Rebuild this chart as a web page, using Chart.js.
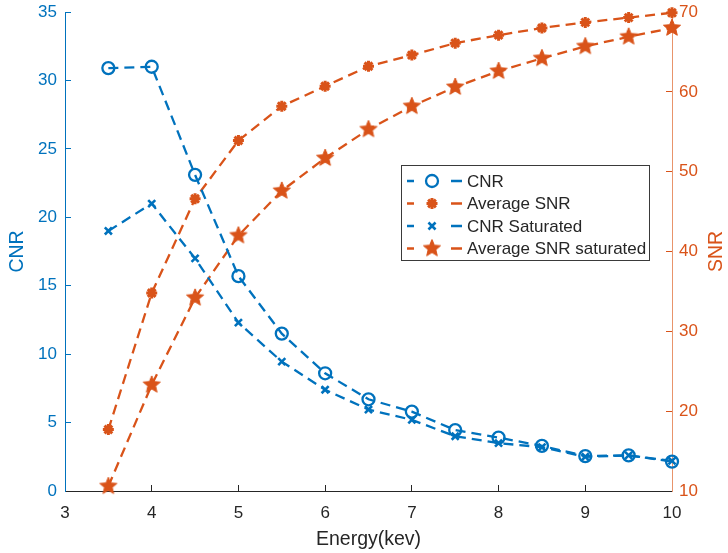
<!DOCTYPE html>
<html>
<head>
<meta charset="utf-8">
<title>CNR / SNR vs Energy</title>
<script src="https://cdn.jsdelivr.net/npm/chart.js@4/dist/chart.umd.min.js"></script>
<style>
  html, body { margin: 0; padding: 0; background: #fff; }
  #grafico { display: block; }
</style>
</head>
<body>
<canvas id="grafico" width="728" height="553"></canvas>
<script>
// Energía (keV) y series medidas
const energia = [3.5, 4, 4.5, 5, 5.5, 6, 6.5, 7, 7.5, 8, 8.5, 9, 9.5, 10];
const cnr = [30.9, 31.0, 23.1, 15.7, 11.5, 8.6, 6.7, 5.8, 4.45, 3.9, 3.3, 2.55, 2.6, 2.15];
const snrMedio = [17.7, 34.8, 46.6, 53.9, 58.2, 60.7, 63.2, 64.6, 66.1, 67.1, 68.0, 68.7, 69.3, 69.9];
const cnrSaturado = [19.0, 21.0, 17.0, 12.3, 9.45, 7.4, 5.95, 5.2, 4.0, 3.5, 3.2, 2.5, 2.6, 2.2];
const snrSaturado = [10.6, 23.3, 34.2, 42.0, 47.6, 51.7, 55.3, 58.2, 60.6, 62.6, 64.2, 65.7, 66.9, 68.0];
const etiquetas = ['CNR', 'Average SNR', 'CNR Saturated', 'Average SNR saturated'];

const AZUL = '#0072BD';
const NARANJA = '#D95319';
const GRIS = '#262626';
const FUENTE = '"Liberation Sans", Arial, sans-serif';
const TRAZO = [10, 6];

// estrella de cinco puntas rellena (no viene en Chart.js)
function crearEstrella(r, color) {
  const c = document.createElement('canvas');
  const s = Math.ceil(r * 2 + 4);
  c.width = c.height = s;
  const g = c.getContext('2d');
  g.fillStyle = color;
  g.strokeStyle = color;
  g.lineWidth = 1;
  g.beginPath();
  for (let i = 0; i < 10; i++) {
    const rr = i % 2 ? r * 0.45 : r;
    const a = -Math.PI / 2 + i * Math.PI / 5;
    g.lineTo(s / 2 + rr * Math.cos(a), s / 2 + rr * Math.sin(a));
  }
  g.closePath();
  g.fill();
  g.stroke();
  return c;
}
const estrella = crearEstrella(9, NARANJA);

const puntos = arr => arr.map((v, i) => ({ x: energia[i], y: v }));

function serie(idx, datos, color, eje, estilo, radio, grosor) {
  return {
    label: etiquetas[idx],
    data: puntos(datos),
    yAxisID: eje,
    borderColor: color,
    borderWidth: 2.3,
    borderDash: TRAZO,
    pointStyle: estilo,
    pointRadius: radio,
    pointBorderWidth: grosor,
    pointBorderColor: color,
    pointBackgroundColor: estilo === 'circle' ? 'rgba(0,0,0,0)' : color,
    tension: 0,
    clip: false
  };
}

// marcador suelto para la leyenda
function dibujarMarcador(ctx, ds, x, y) {
  const r = ds.pointRadius;
  ctx.save();
  ctx.strokeStyle = ds.borderColor;
  ctx.lineWidth = ds.pointBorderWidth;
  ctx.setLineDash([]);
  if (ds.pointStyle instanceof HTMLCanvasElement) {
    const im = ds.pointStyle;
    ctx.drawImage(im, x - im.width / 2, y - im.height / 2);
  } else if (ds.pointStyle === 'circle') {
    ctx.beginPath();
    ctx.arc(x, y, r, 0, Math.PI * 2);
    ctx.stroke();
  } else {
    ctx.beginPath();
    if (ds.pointStyle === 'star') {
      ctx.moveTo(x - r, y); ctx.lineTo(x + r, y);
      ctx.moveTo(x, y - r); ctx.lineTo(x, y + r);
    }
    const dd = r * Math.SQRT1_2;
    ctx.moveTo(x - dd, y - dd); ctx.lineTo(x + dd, y + dd);
    ctx.moveTo(x - dd, y + dd); ctx.lineTo(x + dd, y - dd);
    ctx.stroke();
  }
  ctx.restore();
}

const extras = {
  id: 'extras',
  afterDraw(chart) {
    const ctx = chart.ctx;
    const area = chart.chartArea;
    const der = chart.scales.y1;

    // título del eje derecho, leído de abajo hacia arriba
    ctx.save();
    ctx.translate(der.right - 11, (area.top + area.bottom) / 2);
    ctx.rotate(-Math.PI / 2);
    ctx.font = '19.5px ' + FUENTE;
    ctx.fillStyle = NARANJA;
    ctx.textAlign = 'center';
    ctx.textBaseline = 'middle';
    ctx.fillText('SNR', 0, 0);
    ctx.restore();

    // leyenda dentro del área del gráfico
    const bx = 401, by = 165, bw = 248, bh = 95;
    ctx.save();
    ctx.fillStyle = '#fff';
    ctx.fillRect(bx, by, bw, bh);
    ctx.strokeStyle = '#3a3a3a';
    ctx.lineWidth = 1;
    ctx.strokeRect(bx + 0.5, by + 0.5, bw, bh);
    ctx.font = '17px ' + FUENTE;
    ctx.textBaseline = 'middle';
    chart.data.datasets.forEach((ds, i) => {
      const y = by + 16 + i * 22.5;
      ctx.strokeStyle = ds.borderColor;
      ctx.lineWidth = 2.3;
      ctx.beginPath();
      ctx.moveTo(bx + 6, y); ctx.lineTo(bx + 13, y);
      ctx.moveTo(bx + 50, y); ctx.lineTo(bx + 61, y);
      ctx.stroke();
      dibujarMarcador(ctx, ds, bx + 31, y);
      ctx.fillStyle = GRIS;
      ctx.fillText(ds.label, bx + 66, y + 1);
    });
    ctx.restore();
  }
};

// ancho fijo para los ejes verticales, sin relleno extra arriba/abajo
const ejeVertical = ancho => s => {
  s.width = ancho;
  s.paddingTop = 0;
  s.paddingBottom = 0;
};

new Chart(document.getElementById('grafico'), {
  type: 'line',
  data: {
    datasets: [
      serie(0, cnr, AZUL, 'y', 'circle', 6, 2.3),
      serie(1, snrMedio, NARANJA, 'y1', 'star', 5.5, 3),
      serie(2, cnrSaturado, AZUL, 'y', 'crossRot', 5, 2.6),
      serie(3, snrSaturado, NARANJA, 'y1', estrella, 9, 1)
    ]
  },
  options: {
    responsive: false,
    animation: false,
    events: [],
    layout: { padding: { top: 12, left: 0, right: 0, bottom: 0 } },
    plugins: { legend: { display: false }, tooltip: { enabled: false } },
    scales: {
      x: {
        type: 'linear',
        min: 3, max: 10,
        ticks: { stepSize: 1, color: GRIS, padding: 18, font: { family: FUENTE, size: 17 } },
        grid: { drawOnChartArea: false, tickLength: -6, color: GRIS },
        border: { color: GRIS, width: 1 },
        title: { display: true, text: 'Energy(kev)', color: GRIS, font: { family: FUENTE, size: 19.5 }, padding: { top: 0, bottom: 2 } },
        afterFit: s => { s.height = 62; }
      },
      y: {
        position: 'left',
        min: 0, max: 35,
        ticks: { stepSize: 5, color: AZUL, padding: 14, font: { family: FUENTE, size: 17 } },
        grid: { drawOnChartArea: false, tickLength: -6, color: AZUL },
        border: { color: AZUL, width: 1 },
        title: { display: true, text: 'CNR', color: AZUL, font: { family: FUENTE, size: 19.5 }, padding: { top: 6, bottom: 0 } },
        afterFit: ejeVertical(65)
      },
      y1: {
        position: 'right',
        min: 10, max: 70,
        ticks: { stepSize: 10, color: NARANJA, padding: 13, font: { family: FUENTE, size: 17 } },
        grid: { drawOnChartArea: false, tickLength: -6, color: NARANJA },
        border: { color: '#E8946B', width: 1 },
        title: { display: false },
        afterFit: ejeVertical(56)
      }
    }
  },
  plugins: [extras]
});
</script>
</body>
</html>
